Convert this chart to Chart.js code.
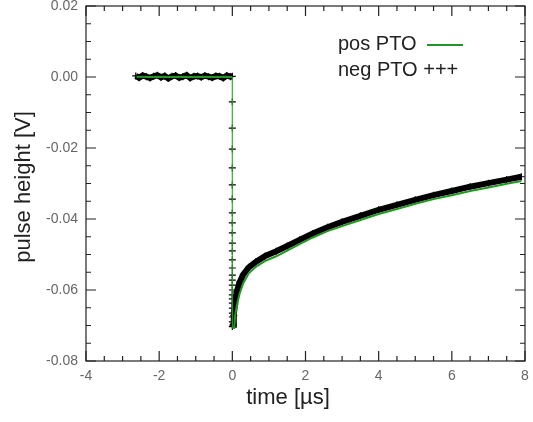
<!DOCTYPE html>
<html>

<head>
    <title>Pulse height vs time</title>
    <script src="https://cdn.jsdelivr.net/npm/chart.js"></script>
    <style>
        body { margin: 0; background: #fff; }
    </style>
</head>

<body>
    <canvas id="myChart" width="533" height="422"></canvas>
    <script>
        // pos PTO (green line)
        const posX = [-2.62, -2.3, -2.0, -1.7, -1.4, -1.1, -0.8, -0.5, -0.2, 0,
            0, 0.05, 0.08, 0.12, 0.2, 0.3, 0.45, 0.65, 0.9, 1.2, 1.5, 1.85, 2.2, 2.6, 3.0,
            3.5, 4.0, 4.5, 5.0, 5.5, 6.0, 6.5, 7.0, 7.5, 7.9];
        const posY = [0.0001, 0.0000, 0.0001, 0.0000, 0.0001, 0.0000, 0.0001, 0.0000, 0.0001, 0.0000,
            -0.0706, -0.0707, -0.0670, -0.0645, -0.0610, -0.0580, -0.0553, -0.0534, -0.0518, -0.0505,
            -0.0489, -0.0470, -0.0452, -0.0434, -0.0420, -0.0403, -0.0386, -0.0372, -0.0357, -0.0344,
            -0.0333, -0.0321, -0.0311, -0.0301, -0.0293];

        // neg PTO (black crosses)
        const negX = [-2.64, -2.55, -2.45, -2.35, -2.25, -2.15, -2.05, -1.95, -1.85, -1.75,
            -1.65, -1.55, -1.45, -1.35, -1.25, -1.15, -1.05, -0.95, -0.85, -0.75,
            -0.65, -0.55, -0.45, -0.35, -0.25, -0.15, -0.05, 0,
            0, 0, 0, 0, 0, 0, 0, 0, 0, 0, 0, 0, 0, 0, 0, 0, 0, 0, 0, 0, 0, 0, 0, 0, 0,
            0.02, 0.04, 0.07, 0.12, 0.2, 0.3, 0.45, 0.65, 0.9, 1.2, 1.5, 1.85, 2.2, 2.6, 3.0,
            3.5, 4.0, 4.5, 5.0, 5.5, 6.0, 6.5, 7.0, 7.5, 7.9];
        const negY = [0.0003, -0.0002, 0.0004, 0.0001, -0.0003, 0.0002, 0.0005, -0.0001, 0.0003, -0.0004,
            0.0002, 0.0004, -0.0002, 0.0001, 0.0005, -0.0003, 0.0002, 0.0003, -0.0001, 0.0004,
            0.0001, -0.0002, 0.0003, 0.0002, -0.0003, 0.0004, 0.0001, 0.0002,
            -0.0070, -0.0144, -0.0203, -0.0256, -0.0304, -0.0344, -0.0383, -0.0411, -0.0439, -0.0468,
            -0.0490, -0.0515, -0.0538, -0.0558, -0.0572, -0.0586, -0.0600, -0.0614, -0.0625, -0.0637,
            -0.0651, -0.0665, -0.0676, -0.0690, -0.0703,
            -0.0698, -0.0672, -0.0640, -0.0605, -0.0578, -0.0556, -0.0536, -0.0520, -0.0504, -0.0491,
            -0.0476, -0.0458, -0.0441, -0.0423, -0.0408, -0.0391, -0.0374, -0.0360, -0.0346, -0.0333,
            -0.0321, -0.0309, -0.0299, -0.0289, -0.0281];

        const xTicks = [-4, -2, 0, 2, 4, 6, 8];
        const yTicks = [-0.08, -0.06, -0.04, -0.02, 0.00, 0.02];

        const green = 'rgb(34,150,34)';
        const isVertical = c => c.p0.parsed.x === c.p1.parsed.x;

        // frame with inward major/minor ticks on all four sides, axis titles, legend
        const framePlugin = {
            id: 'frame',
            afterDraw(chart) {
                const ctx = chart.ctx;
                const a = chart.chartArea;
                const xs = chart.scales.x, ys = chart.scales.y;
                ctx.save();
                ctx.strokeStyle = '#222';
                ctx.lineWidth = 1.2;
                ctx.strokeRect(a.left, a.top, a.right - a.left, a.bottom - a.top);
                ctx.beginPath();
                for (let i = 0; i <= 24; i++) {
                    const v = -4 + i * 0.5;
                    const len = i % 4 === 0 ? 10 : 5;
                    const px = xs.getPixelForValue(v);
                    ctx.moveTo(px, a.bottom); ctx.lineTo(px, a.bottom - len);
                    ctx.moveTo(px, a.top); ctx.lineTo(px, a.top + len);
                }
                for (let i = 0; i <= 20; i++) {
                    const v = -0.08 + i * 0.005;
                    const len = i % 4 === 0 ? 10 : 5;
                    const py = ys.getPixelForValue(v);
                    ctx.moveTo(a.left, py); ctx.lineTo(a.left + len, py);
                    ctx.moveTo(a.right, py); ctx.lineTo(a.right - len, py);
                }
                ctx.stroke();

                // axis titles
                ctx.fillStyle = '#222';
                ctx.font = '22px "Liberation Sans", Arial, sans-serif';
                ctx.textAlign = 'center';
                ctx.textBaseline = 'middle';
                ctx.fillText('time [µs]', 288, 398);
                ctx.translate(24, 187);
                ctx.rotate(-Math.PI / 2);
                ctx.fillText('pulse height [V]', 0, 0);
                ctx.setTransform(1, 0, 0, 1, 0, 0);

                // legend
                ctx.font = '20px "Liberation Sans", Arial, sans-serif';
                ctx.textAlign = 'left';
                ctx.fillText('pos PTO', 338, 44);
                ctx.fillText('neg PTO +++', 338, 70);
                ctx.strokeStyle = green;
                ctx.lineWidth = 2;
                ctx.beginPath();
                ctx.moveTo(427, 45); ctx.lineTo(463, 45);
                ctx.stroke();
                ctx.restore();
            }
        };

        const config = {
            type: 'line',
            data: {
                datasets: [{
                    label: 'pos PTO',
                    data: posX.map((x, i) => ({ x: x, y: posY[i] })),
                    borderColor: green,
                    borderWidth: 2,
                    pointRadius: 0,
                    segment: {
                        borderWidth: c => isVertical(c) ? 1 : 2,
                        borderColor: c => isVertical(c) ? 'rgba(34,170,34,0.55)' : green
                    }
                }, {
                    label: 'neg PTO',
                    data: negX.map((x, i) => ({ x: x, y: negY[i] })),
                    borderColor: '#000',
                    borderWidth: 6,
                    pointStyle: 'cross',
                    pointRadius: 3.5,
                    pointBorderWidth: 1.2,
                    pointBorderColor: '#000',
                    segment: {
                        borderColor: c => isVertical(c) ? 'rgba(0,0,0,0)' : '#000'
                    }
                }]
            },
            options: {
                responsive: false,
                animation: false,
                layout: { padding: { top: 6, right: 8, left: 0, bottom: 0 } },
                plugins: {
                    legend: { display: false },
                    tooltip: { enabled: false }
                },
                scales: {
                    x: {
                        type: 'linear',
                        min: -4,
                        max: 8,
                        afterBuildTicks: s => { s.ticks = xTicks.map(v => ({ value: v })); },
                        afterFit: s => { s.height = 61; s.paddingLeft = 0; s.paddingRight = 0; },
                        grid: { display: false, drawTicks: false },
                        border: { display: false },
                        ticks: {
                            color: '#666',
                            padding: 7,
                            maxRotation: 0,
                            font: { size: 14, family: '"Liberation Sans", Arial, sans-serif' }
                        }
                    },
                    y: {
                        min: -0.08,
                        max: 0.02,
                        afterBuildTicks: s => { s.ticks = yTicks.map(v => ({ value: v })); },
                        afterFit: s => { s.width = 86; s.paddingTop = 0; s.paddingBottom = 0; },
                        grid: { display: false, drawTicks: false },
                        border: { display: false },
                        ticks: {
                            color: '#666',
                            padding: 8,
                            font: { size: 14, family: '"Liberation Sans", Arial, sans-serif' },
                            callback: v => Math.abs(v) < 1e-9 ? '0.00' : v.toFixed(2)
                        }
                    }
                }
            },
            plugins: [framePlugin]
        };

        var myChart = new Chart(document.getElementById('myChart'), config);
    </script>
</body>

</html>
